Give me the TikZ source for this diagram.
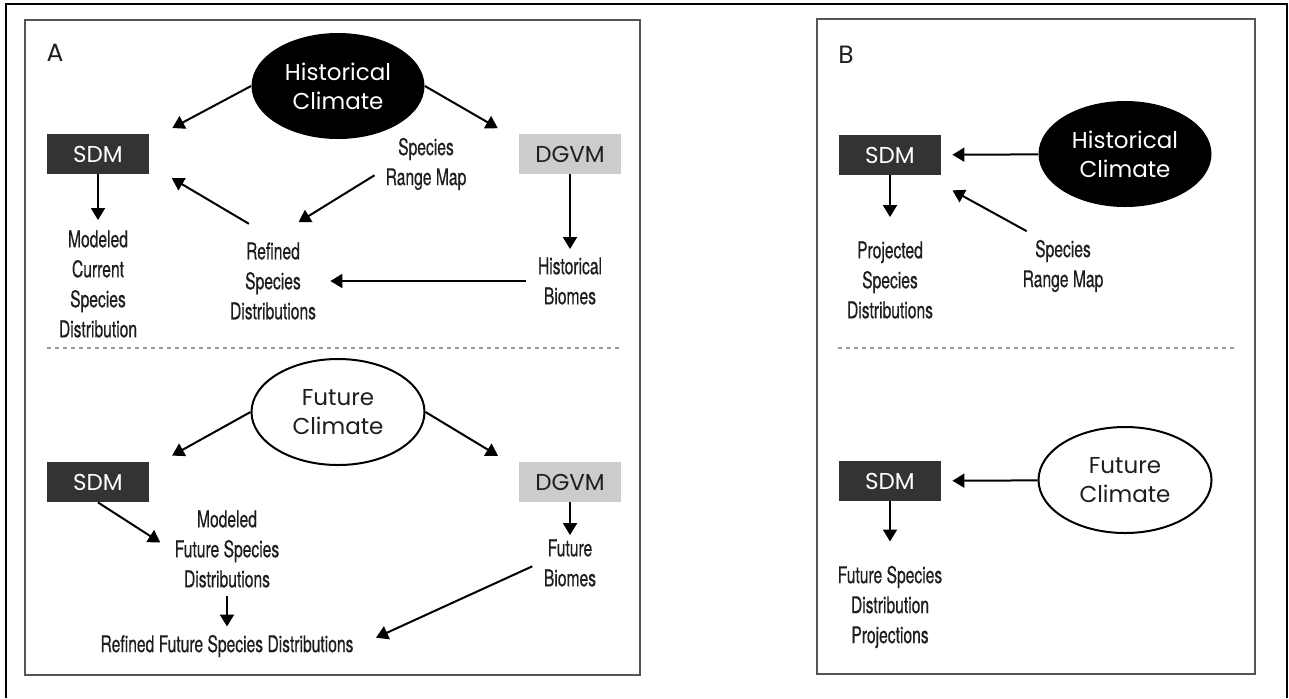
\documentclass[tikz,border=0pt]{standalone}
\usepackage{fontspec}
\newfontfamily\geofont{Poppins}
\newfontfamily\condfont[FakeStretch=0.68,FakeBold=0.5]{TeX Gyre Heros}
\usetikzlibrary{shapes.geometric,arrows.meta}
\definecolor{boxdark}{RGB}{51,51,51}
\definecolor{boxlight}{RGB}{204,204,204}
\definecolor{panelgray}{RGB}{85,85,85}
\definecolor{inkgray}{RGB}{30,30,30}

\begin{document}
\begin{tikzpicture}[x=0.5pt,y=-0.5pt,
    arr/.style={-{Triangle[width=7pt,length=6pt]},line width=1pt},
    modelbox/.style={minimum width=51pt,minimum height=20pt,inner sep=0pt,
      font=\geofont\fontsize{11.5}{14}\selectfont},
    sdmbox/.style={modelbox,fill=boxdark,text=white},
    dgvmbox/.style={modelbox,fill=boxlight,text=inkgray},
    climate/.style={ellipse,inner sep=0pt,minimum width=86.5pt,minimum height=53pt,
      align=center,font=\geofont\fontsize{11.5}{14.5}\selectfont},
    histoval/.style={climate,fill=black,text=white},
    futoval/.style={climate,draw=black,line width=1pt,fill=white,text=inkgray},
    lbl/.style={align=center,inner sep=2pt,text=inkgray,
      font=\condfont\fontsize{11.5}{15}\selectfont},
    panel/.style={draw=panelgray,line width=1.2pt},
    sep/.style={draw=gray!80,line width=0.8pt,dash pattern=on 2pt off 2pt},
    tag/.style={font=\geofont\fontsize{12.5}{14}\selectfont,text=inkgray}]
    \useasboundingbox (0,0) rectangle (1289,698);
    \draw[line width=1pt] (6,698) -- (6,4) -- (1287,4) -- (1287,698);
    \draw[panel] (25,20) rectangle (640,675);
    \draw[panel] (817,19) rectangle (1255,674);
    \draw[sep] (47,348) -- (621,348);
    \draw[sep] (838,348) -- (1236,348);

    \node[tag] (taga) at (55,53) {A};
    \node[tag] (tagb) at (846,55) {B};

    \node[histoval] (hc) at (338,86) {Historical\\Climate};
    \node[sdmbox] (sdm) at (98,154) {SDM};
    \node[dgvmbox] (dgvm) at (570,154) {DGVM};
    \node[lbl] (srm) at (426,164) {Species\\Range Map};
    \node[lbl] (mcsd) at (98,284) {Modeled\\Current\\Species\\Distribution};
    \node[lbl] (rsd) at (273,281) {Refined\\Species\\Distributions};
    \node[lbl] (hb) at (570,281) {Historical\\Biomes};

    \draw[arr,shorten >=13pt] (hc.west) -- (sdm.15);
    \draw[arr,shorten >=12pt] (hc.east) -- (dgvm.165);
    \draw[arr,shorten <=4pt,shorten >=15pt] (srm.189) -- (rsd.north);
    \draw[arr,shorten <=14pt,shorten >=13pt] (rsd.north) -- (sdm.-12);
    \draw[arr,shorten >=3pt] (sdm) -- (mcsd);
    \draw[arr,shorten >=2pt] (dgvm) -- (hb);
    \draw[arr,shorten <=4pt,shorten >=5pt] (hb) -- (rsd);

    \node[futoval] (fc) at (338,412) {Future\\Climate};
    \node[sdmbox] (sdm2) at (98,482) {SDM};
    \node[dgvmbox] (dgvm2) at (570,482) {DGVM};
    \node[lbl] (mfsd) at (227,549) {Modeled\\Future Species\\Distributions};
    \node[lbl] (rfsd) at (227,646) {Refined Future Species Distributions};
    \node[lbl] (fb) at (570,563) {Future\\Biomes};

    \draw[arr,shorten >=13pt] (fc.west) -- (sdm2.15);
    \draw[arr,shorten >=12pt] (fc.east) -- (dgvm2.165);
    \draw[arr,shorten >=6pt] (sdm2.south) -- (mfsd.west);
    \draw[arr,shorten <=2pt,shorten >=2pt] (mfsd) -- (rfsd);
    \draw[arr] (dgvm2) -- (fb);
    \draw[arr,shorten <=4pt,shorten >=10pt] (fb.west) -- (rfsd.east);

    \node[sdmbox] (sdmb) at (890,155) {SDM};
    \node[histoval] (hcb) at (1125,154) {Historical\\Climate};
    \node[lbl] (srmb) at (1063,266) {Species\\Range Map};
    \node[lbl] (psd) at (890,280) {Projected\\Species\\Distributions};
    \node[sdmbox] (sdmb2) at (890,481) {SDM};
    \node[futoval] (fcb) at (1125,480) {Future\\Climate};
    \node[lbl] (fsdp) at (890,607) {Future Species\\Distribution\\Projections};

    \draw[arr,shorten >=5.5pt] (hcb) -- (sdmb);
    \draw[arr,shorten <=4.5pt,shorten >=15.5pt] (srmb.133) -- (sdmb.-30);
    \draw[arr,shorten >=10pt] (sdmb) -- (psd);
    \draw[arr,shorten >=5.5pt] (fcb) -- (sdmb2);
    \draw[arr,shorten >=10pt] (sdmb2) -- (fsdp);
\end{tikzpicture}
\end{document}
